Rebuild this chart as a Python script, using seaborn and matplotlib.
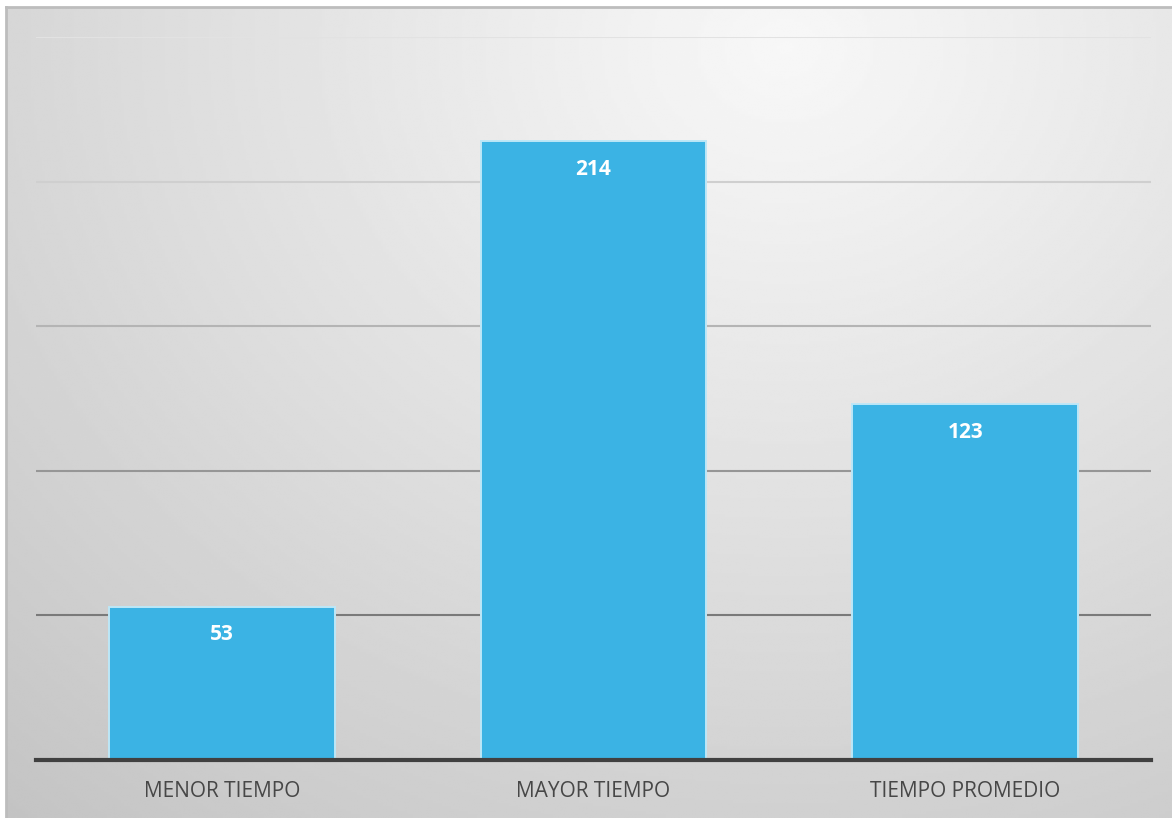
import numpy as np
import pandas as pd
import matplotlib
matplotlib.use("Agg")
import matplotlib.pyplot as plt
import seaborn as sns

categories = ["MENOR TIEMPO", "MAYOR TIEMPO", "TIEMPO PROMEDIO"]
values = [53, 214, 123]
y_ticks = [0, 50, 100, 150, 200, 250]

df = pd.DataFrame({"categoria": categories, "tiempo": values})

sns.set_theme(style="white")
plt.rcParams["font.family"] = ["Open Sans", "DejaVu Sans"]

W, H = 1172, 818
fig = plt.figure(figsize=(W / 100, H / 100), dpi=100)
fig.patch.set_facecolor("white")

# soft radial backdrop behind the chart
bg = fig.add_axes([6 / W, 0, (W - 6) / W, (H - 7) / H], zorder=0)
gx, gy = np.meshgrid(np.linspace(0, W - 6, 400), np.linspace(0, H - 7, 300))
cx, cy = 780, 40
d = np.sqrt(((gx - cx) * 0.85) ** 2 + (gy - cy) ** 2) / 1000.0
shade = np.clip(0.97 - 0.20 * d ** 1.05, 0, 1)
bg.imshow(shade, cmap="gray", vmin=0, vmax=1, aspect="auto",
          extent=[0, 1, 0, 1], origin="upper", interpolation="bilinear")
bg.set_xticks([])
bg.set_yticks([])
for side in ["right", "bottom"]:
    bg.spines[side].set_visible(False)
for side in ["top", "left"]:
    bg.spines[side].set_color("#bdbdbd")
    bg.spines[side].set_linewidth(2.0)

ax = fig.add_axes([36 / W, (H - 760) / H, (1151 - 36) / W, (760 - 37) / H], zorder=1)
ax.patch.set_alpha(0)

sns.barplot(data=df, x="categoria", y="tiempo", ax=ax, color="#3bb3e4",
            saturation=1, width=0.607, edgecolor="#bde7f7", linewidth=1.4,
            zorder=3)

ax.set_xlim(-0.5, len(categories) - 0.5)
ax.set_ylim(y_ticks[0], y_ticks[-1])
ax.set_yticks(y_ticks)
ax.set_yticklabels([])
ax.tick_params(axis="y", length=0)
ax.tick_params(axis="x", length=0, pad=15, labelsize=15, labelcolor="#474747")
ax.set_xlabel("")
ax.set_ylabel("")

ax.grid(axis="y", linewidth=1.5, zorder=1)
grid_colors = ["#3f3f3f", "#7a7a7a", "#969696", "#b4b4b4", "#cfcfcf", "#e2e2e2"]
for line, c in zip(ax.get_ygridlines(), grid_colors):
    line.set_color(c)

for side in ["top", "right", "left"]:
    ax.spines[side].set_visible(False)
ax.spines["bottom"].set_color("#404040")
ax.spines["bottom"].set_linewidth(3)
ax.spines["bottom"].set_zorder(4)

for bar, v in zip(ax.patches, values):
    ax.annotate(f"{v}", (bar.get_x() + bar.get_width() / 2, bar.get_height()),
                xytext=(0, -28), textcoords="offset pixels",
                ha="center", va="center", color="white", fontsize=15,
                fontweight="bold", zorder=5)

fig.savefig("out.png", dpi=100)
